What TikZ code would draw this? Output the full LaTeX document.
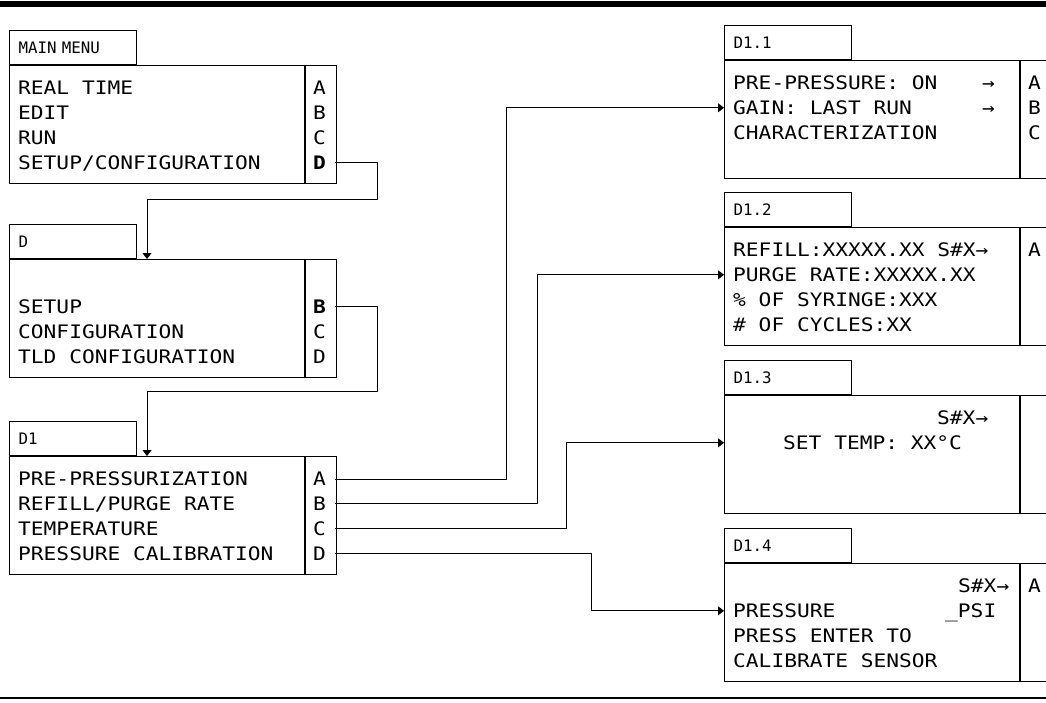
\documentclass[tikz,border=0pt]{standalone}
\usepackage{fontspec}
\newfontfamily\scrfont{DejaVu Sans Mono}[FakeStretch=1.14]
\newfontfamily\tabfont{DejaVu Sans Mono}
\usetikzlibrary{arrows.meta, positioning, calc}

\begin{document}
\begin{tikzpicture}[x=1pt, y=-1pt, >={Triangle[width=9pt,length=6pt]},
    panel/.style={draw, line width=1.2pt, minimum width=295pt, minimum height=118pt, inner sep=0pt, anchor=north west},
    keycol/.style={draw, line width=1.2pt, minimum width=31pt, minimum height=118pt, inner sep=0pt, anchor=north west},
    tab/.style={draw, line width=1.2pt, minimum height=34pt, text width=109pt, inner xsep=9pt, inner ysep=0pt, align=left, anchor=south west, font=\tabfont\fontsize{15.8pt}{18pt}\selectfont},
    row/.style={anchor=west, inner sep=0pt, text height=13.6pt, text depth=0pt, font=\scrfont\fontsize{18.6pt}{24pt}\selectfont},
    key/.style={row, text width=13pt, inner xsep=9pt, align=left},
    link/.style={->, line width=1pt}]
    \useasboundingbox (0,0) rectangle (1046,702);
    \clip (0,0) rectangle (1046,702);
    \fill (0,0.5) rectangle (1046,7);
    \draw[line width=1.2pt] (0,698) -- (1046,698);

    \node[panel] (mainpanel) at (9,65) {};
    \node[keycol] (mainkey) at (mainpanel.north east) {};
    \node[tab] (maintab) at (mainpanel.north west) {MAIN MENU};
    \node[row] (mainrt) at (18,88) {REAL TIME};
    \node[row] (mained) at (18,112.8) {EDIT};
    \node[row] (mainrun) at (18,137.6) {RUN};
    \node[row] (mainsetup) at (18,162.4) {SETUP/CONFIGURATION};
    \node[key] (maina) at (304,88) {A};
    \node[key] (mainb) at (304,112.8) {B};
    \node[key] (mainc) at (304,137.6) {C};
    \node[key] (maind) at (304,162.4) {\bfseries D};

    \node[panel] (dpanel) at (9,259) {};
    \node[keycol] (dkey) at (dpanel.north east) {};
    \node[tab] (dtab) at (dpanel.north west) {D};
    \node[row] (dsetup) at (18,306.8) {SETUP};
    \node[row] (dconf) at (18,331.6) {CONFIGURATION};
    \node[row] (dtld) at (18,356.4) {TLD CONFIGURATION};
    \node[key] (db) at (304,306.8) {\bfseries B};
    \node[key] (dc) at (304,331.6) {C};
    \node[key] (dd) at (304,356.4) {D};

    \node[panel] (d1panel) at (9,456) {};
    \node[keycol] (d1key) at (d1panel.north east) {};
    \node[tab] (d1tab) at (d1panel.north west) {D1};
    \node[row] (d1pre) at (18,479) {PRE-PRESSURIZATION};
    \node[row] (d1refill) at (18,503.8) {REFILL/PURGE RATE};
    \node[row] (d1temp) at (18,528.6) {TEMPERATURE};
    \node[row] (d1cal) at (18,553.4) {PRESSURE CALIBRATION};
    \node[key] (d1a) at (304,479) {A};
    \node[key] (d1b) at (304,503.8) {B};
    \node[key] (d1c) at (304,528.6) {C};
    \node[key] (d1d) at (304,553.4) {D};

    \node[panel] (d11panel) at (724,60) {};
    \node[keycol] (d11key) at (d11panel.north east) {};
    \node[tab] (d11tab) at (d11panel.north west) {D1.1};
    \node[row] (d11pre) at (733,83) {PRE-PRESSURE: ON};
    \node[row] (d11gain) at (733,107.8) {GAIN: LAST RUN};
    \node[row] (d11char) at (733,132.6) {CHARACTERIZATION};
    \node[row] (d11arra) at (982,83) {→};
    \node[row] (d11arrb) at (982,107.8) {→};
    \node[key] (d11a) at (1019,83) {A};
    \node[key] (d11b) at (1019,107.8) {B};
    \node[key] (d11c) at (1019,132.6) {C};

    \node[panel] (d12panel) at (724,227) {};
    \node[keycol] (d12key) at (d12panel.north east) {};
    \node[tab] (d12tab) at (d12panel.north west) {D1.2};
    \node[row] (d12refill) at (733,250) {REFILL:XXXXX.XX S\#X→};
    \node[row] (d12purge) at (733,274.8) {PURGE RATE:XXXXX.XX};
    \node[row] (d12syr) at (733,299.6) {\% OF SYRINGE:XXX};
    \node[row] (d12cyc) at (733,324.4) {\# OF CYCLES:XX};
    \node[key] (d12a) at (1019,250) {A};

    \node[panel] (d13panel) at (724,395) {};
    \node[keycol] (d13key) at (d13panel.north east) {};
    \node[tab] (d13tab) at (d13panel.north west) {D1.3};
    \node[row] (d13sx) at (937,418) {S\#X→};
    \node[row] (d13temp) at (783,442.8) {SET TEMP: XX°C};

    \node[panel] (d14panel) at (724,563) {};
    \node[keycol] (d14key) at (d14panel.north east) {};
    \node[tab] (d14tab) at (d14panel.north west) {D1.4};
    \node[row] (d14sx) at (958,586) {S\#X→};
    \node[row] (d14pres) at (733,610.8) {PRESSURE};
    \node[row] (d14psi) at (945,610.8) {\_PSI};
    \node[row] (d14enter) at (733,635.6) {PRESS ENTER TO};
    \node[row] (d14cal) at (733,660.4) {CALIBRATE SENSOR};
    \node[key] (d14a) at (1019,586) {A};

    \draw[link] (maind.east) -| ++(42,37) -| ($(dpanel.north west)+(138,0)$);
    \draw[link] (db.east) -| ++(42,85) -| ($(d1panel.north west)+(138,0)$);
    \draw[link] (d1a.east) -- ++(171,0) |- (d11panel.west |- d11gain.west);
    \draw[link] (d1b.east) -- ++(202,0) |- (d12panel.west |- d12purge.west);
    \draw[link] (d1c.east) -- ++(231,0) |- (d13panel.west |- d13temp.west);
    \draw[link] (d1d.east) -- ++(256,0) |- (d14panel.west |- d14pres.west);
\end{tikzpicture}
\end{document}
